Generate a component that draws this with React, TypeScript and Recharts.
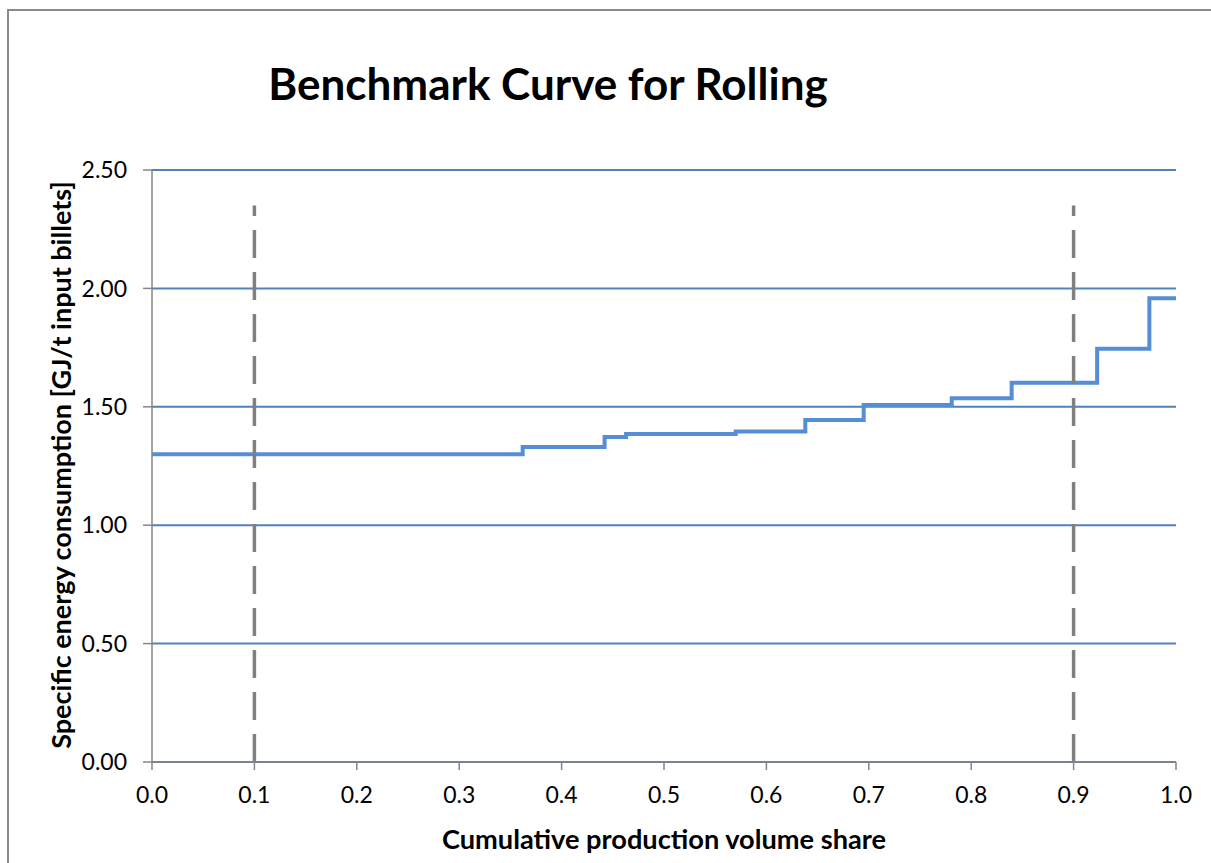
import React from "react";
import { CartesianGrid, Line, LineChart, ReferenceLine, XAxis, YAxis } from "recharts";

// step positions (cumulative share) and level of each step
const shareSteps = [0, 0.362, 0.442, 0.463, 0.57, 0.638, 0.695, 0.781, 0.8395, 0.923, 0.974, 1.0];
const energyLevels = [1.3, 1.33, 1.372, 1.385, 1.396, 1.444, 1.508, 1.536, 1.602, 1.745, 1.958, 1.958];

const xTicks = [0, 0.1, 0.2, 0.3, 0.4, 0.5, 0.6, 0.7, 0.8, 0.9, 1.0];
const yTicks = [0, 0.5, 1.0, 1.5, 2.0, 2.5];

// benchmark markers (10% and 90%) and how high the dashed lines go
const markerShares = [0.1, 0.9];
const markerTop = 2.35;

const FONT = "Lato, 'Open Sans', sans-serif";
const AXIS_GREY = "#868686";
const BLUE = "#558ED5";

export default function App() {
  const data = shareSteps.map((x, i) => ({ x, y: energyLevels[i] }));

  return (
    <div
      style={{
        position: "fixed",
        left: 0,
        top: 0,
        width: 1211,
        height: 863,
        overflow: "hidden",
        background: "#fff",
        fontFamily: FONT
      }}
    >
      <div
        style={{
          position: "absolute",
          left: 7,
          top: 9,
          width: 1400,
          height: 1100,
          borderLeft: "2px solid #8a8a8a",
          borderTop: "2px solid #8a8a8a"
        }}
      />
      <div style={{ position: "absolute", left: 0, top: 0 }}>
        <LineChart
          width={1211}
          height={863}
          data={data}
          margin={{ top: 170, right: 35, bottom: 61, left: 52 }}
        >
          <CartesianGrid vertical={false} stroke="#4F81BD" strokeWidth={2} />
          <XAxis
            dataKey="x"
            type="number"
            domain={[0, 1]}
            ticks={xTicks}
            tickFormatter={(v: number) => v.toFixed(1)}
            height={40}
            stroke={AXIS_GREY}
            strokeWidth={1.5}
            tickSize={8}
            tickMargin={17}
            tick={{ fill: "#000", fontSize: 23 }}
            interval={0}
          />
          <YAxis
            type="number"
            domain={[0, 2.5]}
            ticks={yTicks}
            tickFormatter={(v: number) => v.toFixed(2)}
            width={100}
            stroke={AXIS_GREY}
            strokeWidth={1.5}
            tickSize={9}
            tickMargin={16}
            tick={{ fill: "#000", fontSize: 23 }}
            interval={0}
          />
          <Line
            type="stepAfter"
            dataKey="y"
            stroke={BLUE}
            strokeWidth={4}
            dot={false}
            activeDot={false}
            isAnimationActive={false}
          />
          {markerShares.map((m) => (
            <ReferenceLine
              key={m}
              segment={[
                { x: m, y: 0 },
                { x: m, y: markerTop }
              ]}
              stroke="#808080"
              strokeWidth={3.5}
              strokeDasharray="28 14"
              ifOverflow="visible"
            />
          ))}
        </LineChart>
      </div>
      <svg
        width={1211}
        height={863}
        style={{ position: "absolute", left: 0, top: 0, pointerEvents: "none" }}
        fontFamily={FONT}
        fontWeight={700}
      >
        <text x={548} y={83} fontSize={44} textAnchor="middle" dominantBaseline="central" fill="#000">
          Benchmark Curve for Rolling
        </text>
        <text x={664} y={838} fontSize={27.2} textAnchor="middle" dominantBaseline="central" fill="#000">
          Cumulative production volume share
        </text>
        <text
          x={60}
          y={465}
          fontSize={27}
          textAnchor="middle"
          dominantBaseline="central"
          fill="#000"
          transform="rotate(-90 60 465)"
        >
          Specific energy consumption [GJ/t input billets]
        </text>
      </svg>
    </div>
  );
}
